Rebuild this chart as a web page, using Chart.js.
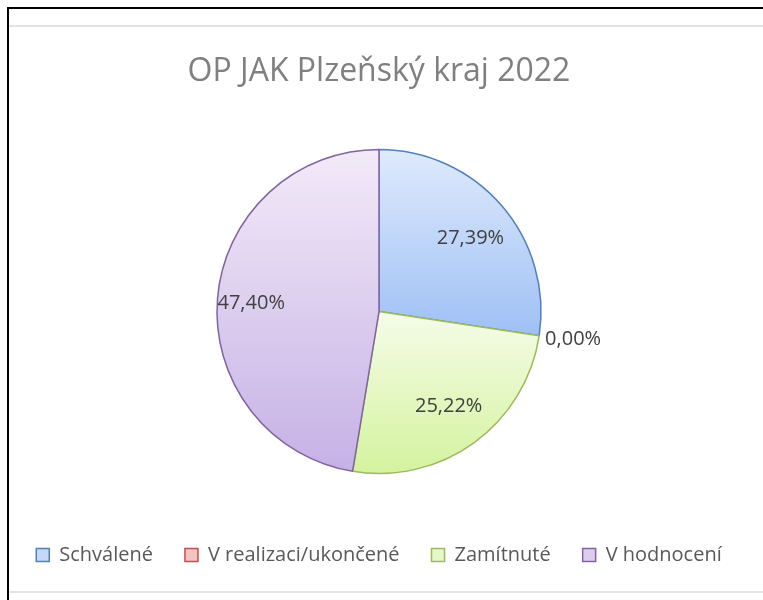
<!DOCTYPE html>
<html>
<head>
<meta charset="utf-8">
<script src="https://cdn.jsdelivr.net/npm/chart.js@4.4.1/dist/chart.umd.min.js"></script>
<style>
  html, body { margin: 0; padding: 0; background: #ffffff; }
  #wrap { position: relative; width: 763px; height: 600px; overflow: hidden; background: #ffffff; }
  #frame { position: absolute; left: 7px; top: 7px; width: 800px; height: 700px;
           border-left: 2px solid #000; border-top: 2px solid #000; box-sizing: border-box; }
  .gline { position: absolute; height: 2px; background: #e3e3e3; }
  canvas { position: absolute; left: 0; top: 0; }
</style>
</head>
<body>
<div id="wrap">
  <div class="gline" style="left:9px; top:25px; width:760px;"></div>
  <div class="gline" style="left:10px; top:591px; width:760px;"></div>
  <div id="frame"></div>
  <canvas id="c" width="763" height="600"></canvas>
</div>
<script>
// ---- data ----
const chartTitle = 'OP JAK Plzeňský kraj 2022';
const categories = ['Schválené', 'V realizaci/ukončené', 'Zamítnuté', 'V hodnocení'];
const shares = [27.39, 0.00, 25.22, 47.40];

// ---- styles ----
const topColors    = ['#dfeafc', '#fbdede', '#f5fce9', '#f2eaf8'];
const bottomColors = ['#9ec0f5', '#eea6a6', '#d4f39e', '#c6b1e5'];
const legendFill   = ['#c4d8f8', '#f6c3c3', '#e6f8c8', '#dccdef'];
const borderColors = ['#4f81bd', '#c0504d', '#9bbb59', '#8064a2'];
const labelRadius  = [0.72, 1.0, 0.70, 0.81];

const fmt = v => v.toFixed(2).replace('.', ',') + '%';

const gradientPlugin = {
  id: 'sliceGradient',
  beforeDatasetsDraw(chart) {
    const ctx = chart.ctx;
    const meta = chart.getDatasetMeta(0);
    meta.data.forEach((arc, i) => {
      const p = arc.getProps(['x', 'y', 'startAngle', 'endAngle', 'outerRadius'], true);
      if (p.endAngle - p.startAngle <= 0) return;
      const ys = [p.y, p.y + p.outerRadius * Math.sin(p.startAngle), p.y + p.outerRadius * Math.sin(p.endAngle)];
      for (let k = -8; k <= 8; k++) {
        const a = k * Math.PI / 2;
        if (a > p.startAngle && a < p.endAngle) ys.push(p.y + p.outerRadius * Math.sin(a));
      }
      const g = ctx.createLinearGradient(0, Math.min(...ys), 0, Math.max(...ys));
      g.addColorStop(0, topColors[i]);
      g.addColorStop(1, bottomColors[i]);
      arc.options.backgroundColor = g;
    });
  }
};

const labelPlugin = {
  id: 'sliceLabels',
  afterDatasetsDraw(chart) {
    const ctx = chart.ctx;
    const meta = chart.getDatasetMeta(0);
    ctx.save();
    ctx.font = '20px "Open Sans"';
    ctx.fillStyle = '#404040';
    ctx.textBaseline = 'middle';
    meta.data.forEach((arc, i) => {
      const p = arc.getProps(['x', 'y', 'startAngle', 'endAngle', 'outerRadius'], true);
      const mid = (p.startAngle + p.endAngle) / 2;
      const v = chart.data.datasets[0].data[i];
      if (v === 0) {
        const r = p.outerRadius + 6;
        ctx.textAlign = 'left';
        ctx.fillText(fmt(v), p.x + r * Math.cos(mid), p.y + r * Math.sin(mid) + 3);
      } else {
        const r = p.outerRadius * labelRadius[i];
        ctx.textAlign = 'center';
        ctx.fillText(fmt(v), p.x + r * Math.cos(mid) + 3, p.y + r * Math.sin(mid) + 3);
      }
    });
    ctx.restore();
  }
};

function build() {
  new Chart(document.getElementById('c'), {
    type: 'pie',
    data: {
      labels: categories,
      datasets: [{
        data: shares,
        backgroundColor: legendFill,
        borderColor: borderColors,
        borderWidth: 1.5
      }]
    },
    options: {
      responsive: false,
      animation: false,
      radius: 162,
      layout: { padding: { left: 0, right: 5, top: 0, bottom: 25 } },
      plugins: {
        title: {
          display: true,
          text: chartTitle,
          color: '#808080',
          font: { family: '"Open Sans"', size: 32, weight: 'normal' },
          padding: { top: 53, bottom: 18.6 }
        },
        legend: {
          position: 'bottom',
          labels: {
            color: '#595959',
            font: { family: '"Open Sans"', size: 20 },
            boxWidth: 13,
            boxHeight: 13,
            padding: 32
          }
        },
        tooltip: { enabled: false }
      }
    },
    plugins: [gradientPlugin, labelPlugin]
  });
}

if (document.fonts && document.fonts.load) {
  Promise.all([
    document.fonts.load('20px "Open Sans"'),
    document.fonts.load('32px "Open Sans"')
  ]).then(build, build);
} else {
  build();
}
</script>
</body>
</html>
